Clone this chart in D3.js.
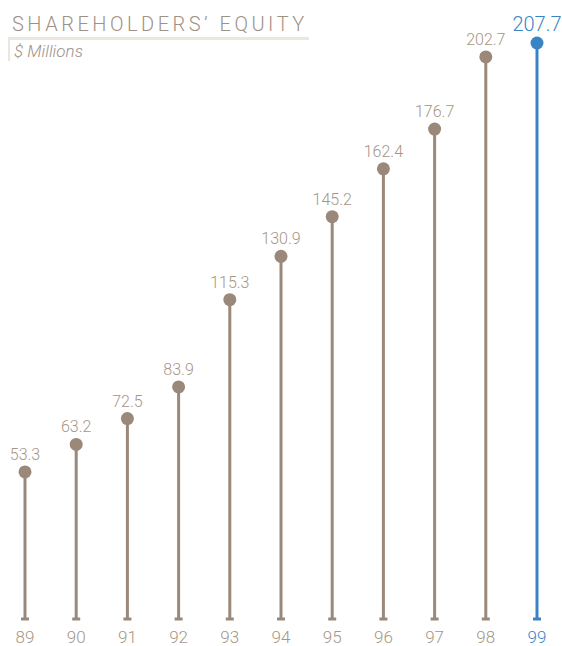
<!DOCTYPE html>
<meta charset="utf-8">
<html>
<script src="https://d3js.org/d3.v7.min.js"></script>
<style>
  body { margin: 0; background: #fff; }
  text { font-family: Roboto, "Open Sans", sans-serif; font-weight: 300; }
</style>
<body>
<div id="chart"></div>
<script>
// data
const years = ["89", "90", "91", "92", "93", "94", "95", "96", "97", "98", "99"];
const equity = [53.3, 63.2, 72.5, 83.9, 115.3, 130.9, 145.2, 162.4, 176.7, 202.7, 207.7];

const width = 562, height = 646;
const brown = "#9a897a", labelBrown = "#a69686", blue = "#3a84c6";

const svg = d3.select("#chart").append("svg")
    .attr("width", width)
    .attr("height", height);

const x = d3.scalePoint()
    .domain(years)
    .range([25, 537]);

const y = d3.scaleLinear()
    .domain([0, 207.7])
    .range([620, 43]);

// title
svg.append("text")
    .attr("x", 12).attr("y", 31)
    .attr("fill", "#9e9186")
    .attr("font-size", 20)
    .attr("letter-spacing", 3.5)
    .text("SHAREHOLDERS\u2019 EQUITY");
svg.append("rect")
    .attr("x", 8).attr("y", 37).attr("width", 301).attr("height", 3)
    .attr("fill", "#ebe6de");
svg.append("rect")
    .attr("x", 8).attr("y", 37).attr("width", 2).attr("height", 24)
    .attr("fill", "#ebe6de");
svg.append("text")
    .attr("x", 14).attr("y", 57)
    .attr("fill", "#9e9186")
    .attr("font-size", 17)
    .attr("font-style", "italic")
    .text("$ Millions");

const data = years.map((d, i) => ({year: d, value: equity[i], last: i === years.length - 1}));

const g = svg.selectAll(".stem").data(data).join("g").attr("class", "stem");

g.append("line")
    .attr("x1", d => x(d.year)).attr("x2", d => x(d.year))
    .attr("y1", d => y(d.value)).attr("y2", 620)
    .attr("stroke", d => d.last ? blue : brown)
    .attr("stroke-width", 3);

g.append("rect")
    .attr("x", d => x(d.year) - 4).attr("y", 617.5)
    .attr("width", 8).attr("height", 3)
    .attr("fill", d => d.last ? blue : brown);

g.append("circle")
    .attr("cx", d => x(d.year)).attr("cy", d => y(d.value))
    .attr("r", 6.5)
    .attr("fill", d => d.last ? blue : brown);

g.append("text")
    .attr("x", d => x(d.year))
    .attr("y", d => y(d.value) - 12)
    .attr("text-anchor", "middle")
    .attr("font-size", d => d.last ? 20 : 16)
    .attr("fill", d => d.last ? blue : labelBrown)
    .text(d => d.value.toFixed(1));

g.append("text")
    .attr("x", d => x(d.year))
    .attr("y", 643)
    .attr("text-anchor", "middle")
    .attr("font-size", 17)
    .attr("fill", d => d.last ? blue : labelBrown)
    .text(d => d.year);
</script>
</body>
</html>
